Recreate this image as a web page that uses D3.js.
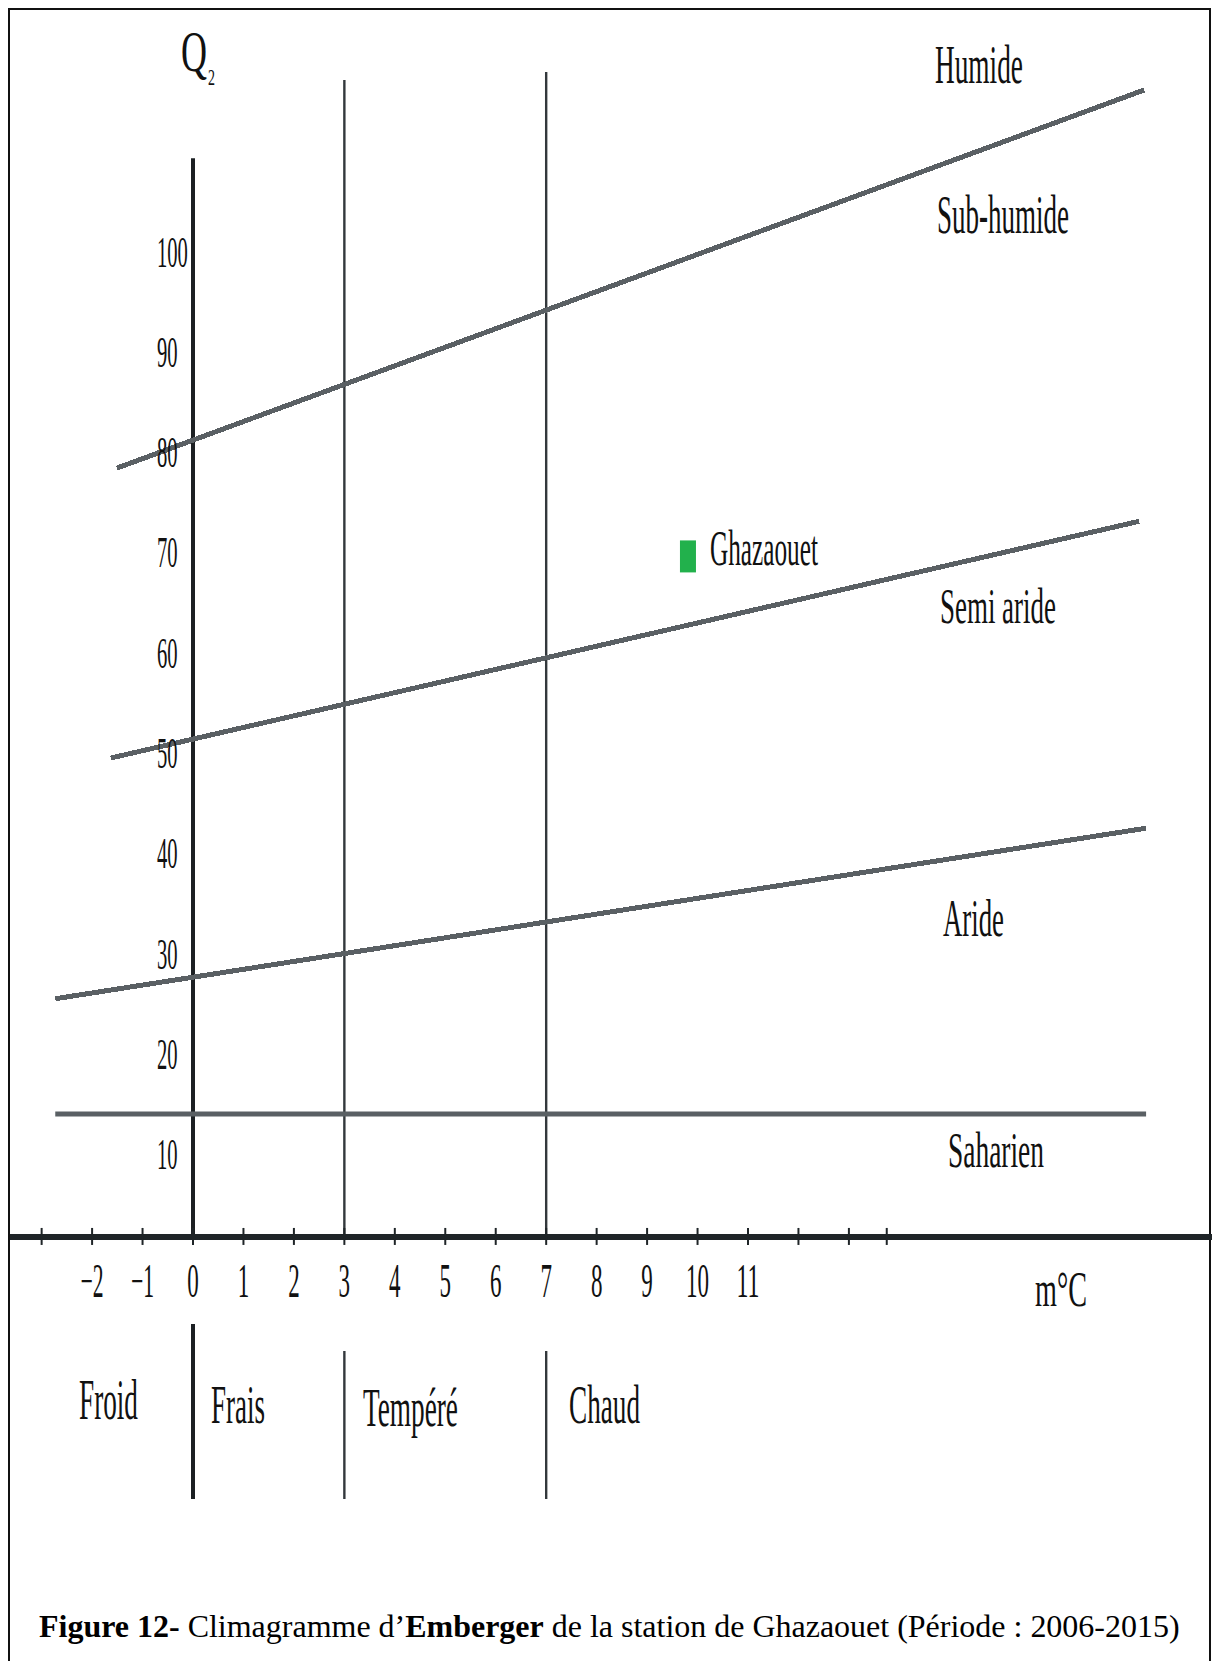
<!DOCTYPE html>
<html>
<head>
<meta charset="utf-8">
<script src="https://cdn.jsdelivr.net/npm/d3@7"></script>
<style>
  body { margin: 0; background: #fff; }
</style>
</head>
<body>
<script>
// Climagramme d'Emberger - Ghazaouet

// x : m (°C), y : Q2
var mTicks = [-2, -1, 0, 1, 2, 3, 4, 5, 6, 7, 8, 9, 10, 11];
var mExtraTicks = [-3, 12, 13, 13.75];
var qTicks = [10, 20, 30, 40, 50, 60, 70, 80, 90, 100];

// limites des étages bioclimatiques (début / fin de chaque droite)
var limitNames = ["Humide | Sub-humide", "Sub-humide | Semi aride", "Semi aride | Aride", "Aride | Saharien"];
var limitStartM = [-1.51, -1.63, -2.73, -2.73];
var limitStartQ = [78.4, 49.5, 25.5, 14.0];
var limitEndM = [18.85, 18.75, 18.89, 18.89];
var limitEndQ = [116.1, 73.1, 42.5, 14.0];

// variantes hivernales (droites verticales m = 0, 3, 7)
var winterLimits = [0, 3, 7];
var winterTopQ = [109.3, 117.1, 117.9];
var winterNames = ["Froid", "Frais", "Tempéré", "Chaud"];

var stageNames = ["Humide", "Sub-humide", "Semi aride", "Aride", "Saharien"];

// station
var stationName = "Ghazaouet";
var stationM = 9.81;
var stationQ = 69.6;

var axisQ = 1.75; // hauteur de l'axe des m

var serif = "'Liberation Serif', Tinos, 'Times New Roman', Times, serif";

window.onload = function () {
  var w = 1212, h = 1661;

  var svg = d3.select("body").append("svg")
    .attr("width", w)
    .attr("height", h)
    .attr("class", "container")
    .style("font-family", serif);

  var x = d3.scaleLinear().domain([0, 11]).range([193, 748]);
  var y = d3.scaleLinear().domain([0, 100]).range([1254.5, 251.5]);

  // texte étroit (police comprimée horizontalement comme sur l'original)
  function squeeze(g, txt, px, py, size, width, anchor) {
    var t = g.append("text")
      .attr("font-family", serif)
      .attr("font-size", size)
      .attr("fill", "#111")
      .attr("text-anchor", anchor || "start")
      .text(txt);
    var len = t.node().getComputedTextLength();
    t.attr("transform", "translate(" + px + "," + py + ") scale(" + (width / len) + ",1)");
    return t;
  }

  // cadre
  svg.append("path")
    .attr("d", "M9,1661 V9 H1210 V1661")
    .attr("fill", "none")
    .attr("stroke", "#111")
    .attr("stroke-width", 2);

  var plot = svg.append("g").attr("class", "plot");
  var yAxisY = y(axisQ);

  // droites verticales m = 0, 3, 7
  plot.selectAll(".winter")
    .data(winterLimits)
    .enter().append("line")
    .attr("class", "winter")
    .attr("x1", function (d) { return x(d); })
    .attr("x2", function (d) { return x(d); })
    .attr("y1", function (d, i) { return y(winterTopQ[i]); })
    .attr("y2", yAxisY)
    .attr("stroke", function (d) { return d === 0 ? "#1c2023" : "#33383c"; })
    .attr("stroke-width", function (d) { return d === 0 ? 4 : 2.4; });

  // limites des étages
  plot.selectAll(".limit")
    .data(limitNames)
    .enter().append("line")
    .attr("class", "limit")
    .attr("x1", function (d, i) { return x(limitStartM[i]); })
    .attr("y1", function (d, i) { return y(limitStartQ[i]); })
    .attr("x2", function (d, i) { return x(limitEndM[i]); })
    .attr("y2", function (d, i) { return y(limitEndQ[i]); })
    .attr("stroke", "#5a6064")
    .attr("stroke-width", 5)
    .attr("shape-rendering", function (d, i) { return i < 3 ? "crispEdges" : "auto"; });

  // axe des m
  plot.append("line")
    .attr("x1", 10).attr("x2", w)
    .attr("y1", yAxisY).attr("y2", yAxisY)
    .attr("stroke", "#1f2528")
    .attr("stroke-width", 6);

  plot.selectAll(".tick")
    .data(mTicks.concat(mExtraTicks))
    .enter().append("line")
    .attr("class", "tick")
    .attr("x1", function (d) { return x(d); })
    .attr("x2", function (d) { return x(d); })
    .attr("y1", yAxisY - 9)
    .attr("y2", yAxisY + 8)
    .attr("stroke", "#1f2528")
    .attr("stroke-width", 2);

  var mLabels = plot.append("g");
  mTicks.forEach(function (d) {
    var s = d < 0 ? "\u2212" + Math.abs(d) : String(d);
    squeeze(mLabels, s, x(d), 1297, 48, (d < 0 ? 23 : 11.5 * String(d).length), "middle");
  });
  squeeze(plot, "m°C", 1035, 1306, 50, 52);

  // axe des Q2
  var qLabels = plot.append("g");
  qTicks.forEach(function (d) {
    squeeze(qLabels, String(d), 157, y(d) + 15, 45, 10.3 * String(d).length);
  });
  squeeze(plot, "Q", 181, 71, 56, 26);
  squeeze(plot, "2", 208, 85, 24, 7);

  // noms des étages
  var stagePos = [[935, 83, 54, 88], [937, 233, 54, 132], [940, 623, 50, 116], [943, 936, 52, 61], [948, 1167, 50, 96]];
  stageNames.forEach(function (d, i) {
    var p = stagePos[i];
    squeeze(plot, d, p[0], p[1], p[2], p[3]);
  });

  // station
  plot.append("rect")
    .attr("x", x(stationM) - 8)
    .attr("y", y(stationQ) - 16)
    .attr("width", 16)
    .attr("height", 32)
    .attr("fill", "#22b14c");
  squeeze(plot, stationName, x(stationM) + 22, y(stationQ) + 9, 50, 108);

  // variantes hivernales sous l'axe
  var band = svg.append("g").attr("class", "winterBand");
  band.selectAll("line")
    .data(winterLimits)
    .enter().append("line")
    .attr("x1", function (d) { return x(d); })
    .attr("x2", function (d) { return x(d); })
    .attr("y1", function (d) { return d === 0 ? 1324 : 1351; })
    .attr("y2", 1499)
    .attr("stroke", function (d) { return d === 0 ? "#1c2023" : "#33383c"; })
    .attr("stroke-width", function (d) { return d === 0 ? 4 : 2.4; });

  var winterPos = [[79, 1419, 56, 59], [211, 1423, 54, 54], [363, 1426, 54, 95], [569, 1423, 54, 71]];
  winterNames.forEach(function (d, i) {
    var p = winterPos[i];
    squeeze(band, d, p[0], p[1], p[2], p[3]);
  });

  // légende
  var cap = svg.append("text")
    .attr("font-family", serif)
    .attr("font-size", 32)
    .attr("fill", "#000")
    .attr("x", 0).attr("y", 0);
  cap.append("tspan").attr("font-weight", "bold").text("Figure 12-");
  cap.append("tspan").text(" Climagramme d\u2019");
  cap.append("tspan").attr("font-weight", "bold").text("Emberger");
  cap.append("tspan").text(" de la station de Ghazaouet (Période : 2006-2015)");
  var capLen = cap.node().getComputedTextLength();
  cap.attr("transform", "translate(39,1637) scale(" + (1141 / capLen) + ",1)");
};
</script>
</body>
</html>
